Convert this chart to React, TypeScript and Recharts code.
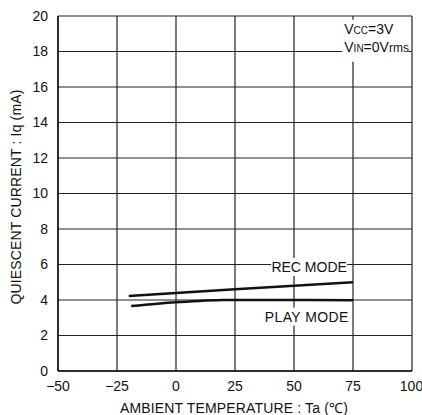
import React from "react";
import {
  LineChart,
  Line,
  XAxis,
  YAxis,
  CartesianGrid,
  ReferenceDot,
} from "recharts";

const tempTicks = [-50, -25, 0, 25, 50, 75, 100];
const currentTicks = [0, 2, 4, 6, 8, 10, 12, 14, 16, 18, 20];

const recTemp = [-20, 0, 25, 50, 75];
const recCurrent = [4.22, 4.4, 4.6, 4.8, 5.0];

const playTemp = [-19, 0, 10, 20, 50, 75];
const playCurrent = [3.66, 3.88, 3.95, 4.0, 4.0, 3.98];

const recData = recTemp.map((t, i) => ({ t, iq: recCurrent[i] }));
const playData = playTemp.map((t, i) => ({ t, iq: playCurrent[i] }));

const FONT = "'Liberation Sans Narrow', 'Liberation Sans', Arial, sans-serif";

const fmtTick = (v: number) => (v < 0 ? "\u2212" + Math.abs(v) : String(v));

// label with white box behind it, centred on a data point
const boxLabel = (text: string, w: number, spacing: number) => (props: any) => {
  const { viewBox } = props;
  const cx = viewBox.x + (viewBox.width || 0) / 2;
  const cy = viewBox.y + (viewBox.height || 0) / 2;
  return (
    <g>
      <rect x={cx - w / 2} y={cy - 9} width={w} height={18} fill="#fff" />
      <text
        x={cx}
        y={cy + 5}
        textAnchor="middle"
        fontSize={14}
        letterSpacing={spacing}
        fontFamily={FONT}
        fill="#111"
      >
        {text}
      </text>
    </g>
  );
};

const condLabel = (props: any) => {
  const { viewBox } = props;
  const x = viewBox.x;
  const y = viewBox.y;
  return (
    <g fontFamily={FONT} fill="#111">
      <rect x={x - 2} y={y - 14} width={66} height={42} fill="#fff" />
      <text x={x} y={y} fontSize={14}>
        V<tspan fontSize={10}>CC</tspan>=3V
      </text>
      <text x={x} y={y + 18} fontSize={14}>
        V<tspan fontSize={10}>IN</tspan>=0V<tspan fontSize={12}>rms</tspan>
      </text>
    </g>
  );
};

export default function App() {
  return (
    <div style={{ position: "absolute", left: 0, top: 0, background: "#fff" }}>
      <LineChart
        width={422}
        height={415}
        margin={{ top: 16, right: 10, bottom: 14, left: 18 }}
      >
        <CartesianGrid stroke="#222" strokeWidth={1.2} />
        <XAxis
          type="number"
          dataKey="t"
          domain={[-50, 100]}
          ticks={tempTicks}
          tickFormatter={fmtTick}
          allowDataOverflow
          height={30}
          axisLine={{ stroke: "#111", strokeWidth: 1.5 }}
          tickLine={false}
          tick={{ fill: "#111", fontSize: 14, fontFamily: FONT }}
          tickMargin={4}
          label={(p: any) => {
            const vb = p.viewBox;
            return (
              <text
                x={vb.x + vb.width / 2 - 1}
                y={413}
                textAnchor="middle"
                fontSize={14}
                letterSpacing={0.15}
                fontFamily={FONT}
                fill="#111"
              >
                AMBIENT TEMPERATURE : Ta (℃)
              </text>
            );
          }}
        />
        <YAxis
          type="number"
          dataKey="iq"
          domain={[0, 20]}
          ticks={currentTicks}
          width={40}
          axisLine={{ stroke: "#111", strokeWidth: 1.5 }}
          tickLine={false}
          tick={{ fill: "#111", fontSize: 14, fontFamily: FONT }}
          tickMargin={4}
          label={() => (
            <text
              x={0}
              y={0}
              transform={`translate(21, 197) rotate(-90)`}
              textAnchor="middle"
              fontSize={14}
              letterSpacing={0.15}
              fontFamily={FONT}
              fill="#111"
            >
              QUIESCENT CURRENT : Iq (mA)
            </text>
          )}
        />
        <ReferenceDot
          x={56.4}
          y={5.86}
          r={0}
          stroke="none"
          label={boxLabel("REC MODE", 76, 0)}
        />
        <ReferenceDot
          x={55.4}
          y={3.06}
          r={0}
          stroke="none"
          label={boxLabel("PLAY MODE", 86, 0.4)}
        />
        <ReferenceDot x={71.3} y={19.0} r={0} stroke="none" label={condLabel} />
        <Line
          data={recData}
          dataKey="iq"
          type="linear"
          stroke="#111"
          strokeWidth={2.5}
          dot={false}
          isAnimationActive={false}
        />
        <Line
          data={playData}
          dataKey="iq"
          type="monotone"
          stroke="#111"
          strokeWidth={2.5}
          dot={false}
          isAnimationActive={false}
        />
      </LineChart>
    </div>
  );
}
